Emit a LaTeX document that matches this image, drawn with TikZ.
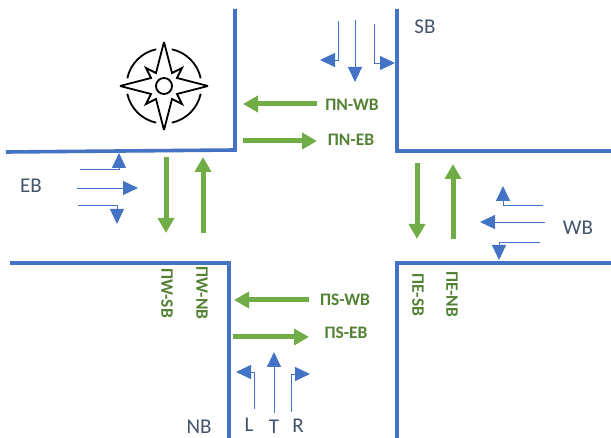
\documentclass[tikz,border=0pt]{standalone}
\usepackage{fontspec}
\setmainfont{Carlito}
\usetikzlibrary{arrows.meta}
\definecolor{roadblue}{HTML}{4472C4}
\definecolor{phasegreen}{HTML}{70AD47}
\definecolor{phasetext}{HTML}{548235}
\definecolor{slate}{HTML}{44546A}
\begin{document}
\begin{tikzpicture}[x=1pt,y=-1pt,
road/.style={draw=roadblue,line width=3.6pt,line join=miter},
lane/.style={draw=roadblue,line width=.9pt,-{Triangle[length=15pt,width=14pt]}},
phase/.style={draw=phasegreen,line width=5pt,-{Triangle[length=15pt,width=16pt]}},
plabel/.style={font=\fontsize{17.5}{18}\selectfont\bfseries,text=phasetext,inner sep=0pt},
dirlabel/.style={font=\fontsize{21}{22}\selectfont,text=slate,inner sep=0pt}]
\useasboundingbox (0,0) rectangle (611,438);
% road edges
\draw[road] (6,152)--(235,150)--(235,9);
\draw[road] (397,9)--(397,151)--(611,151);
\draw[road] (10,263)--(229,263)--(229,438);
\draw[road] (397,438)--(397,263)--(611,263);
% SB lanes
\draw[lane] (338,21)--(338,60)--(320,60);
\draw[lane] (355,20)--(355,82);
\draw[lane] (374,24)--(374,63)--(395,63);
% EB lanes
\draw[lane] (80,169)--(119,169)--(119,153);
\draw[lane] (77,188)--(138,188);
\draw[lane] (78,205)--(117,205)--(117,224);
% WB lanes
\draw[lane] (543,205)--(503,205)--(503,186);
\draw[lane] (545,222)--(480,222);
\draw[lane] (540,242)--(499,242)--(499,260);
% NB lanes
\draw[lane] (254,409)--(254,372)--(236,372);
\draw[lane] (274,413)--(274,352);
\draw[lane] (291,412)--(291,374)--(310,374);
% phases
\draw[phase] (317,104)--(243,104);
\draw[phase] (243,141)--(317,141);
\draw[phase] (166,157)--(166,233);
\draw[phase] (203,233)--(203,157);
\draw[phase] (417,163)--(417,239);
\draw[phase] (453,239)--(453,164);
\draw[phase] (309,300)--(234,300);
\draw[phase] (233,337)--(309,337);
% phase labels
\node[plabel] (nwb) at (352,104.5) {ΠN-WB};
\node[plabel] (neb) at (351,140) {ΠN-EB};
\node[plabel] (swb) at (345,300) {ΠS-WB};
\node[plabel] (seb) at (346,333) {ΠS-EB};
\node[plabel,rotate=-90] (wsb) at (167,293) {ΠW-SB};
\node[plabel,rotate=-90] (wnb) at (202,293) {ΠW-NB};
\node[plabel,rotate=-90] (esb) at (418,295) {ΠE-SB};
\node[plabel,rotate=-90] (enb) at (452,294) {ΠE-NB};
% approach labels
\node[dirlabel] (sb) at (425,27) {SB};
\node[dirlabel] (eb) at (31,186) {EB};
\node[dirlabel] (wb) at (578,228) {WB};
\node[dirlabel] (nb) at (199,427) {NB};
\node[dirlabel] (l) at (249,425) {L};
\node[dirlabel] (t) at (274,427) {T};
\node[dirlabel] (r) at (298,426) {R};
% compass
\begin{scope}[shift={(164,86)},line width=1.8pt,line join=miter]
\draw (0,0) circle (8);
\foreach \a in {0,90,180,270}{
\draw (\a+12:37.5) arc[start angle=\a+12,end angle=\a+78,radius=37.5];
\draw[rotate=\a] (0,-44)--(8,-13)--(18,-18)--(13,-8)--(44,0);
}
\end{scope}
\end{tikzpicture}
\end{document}
